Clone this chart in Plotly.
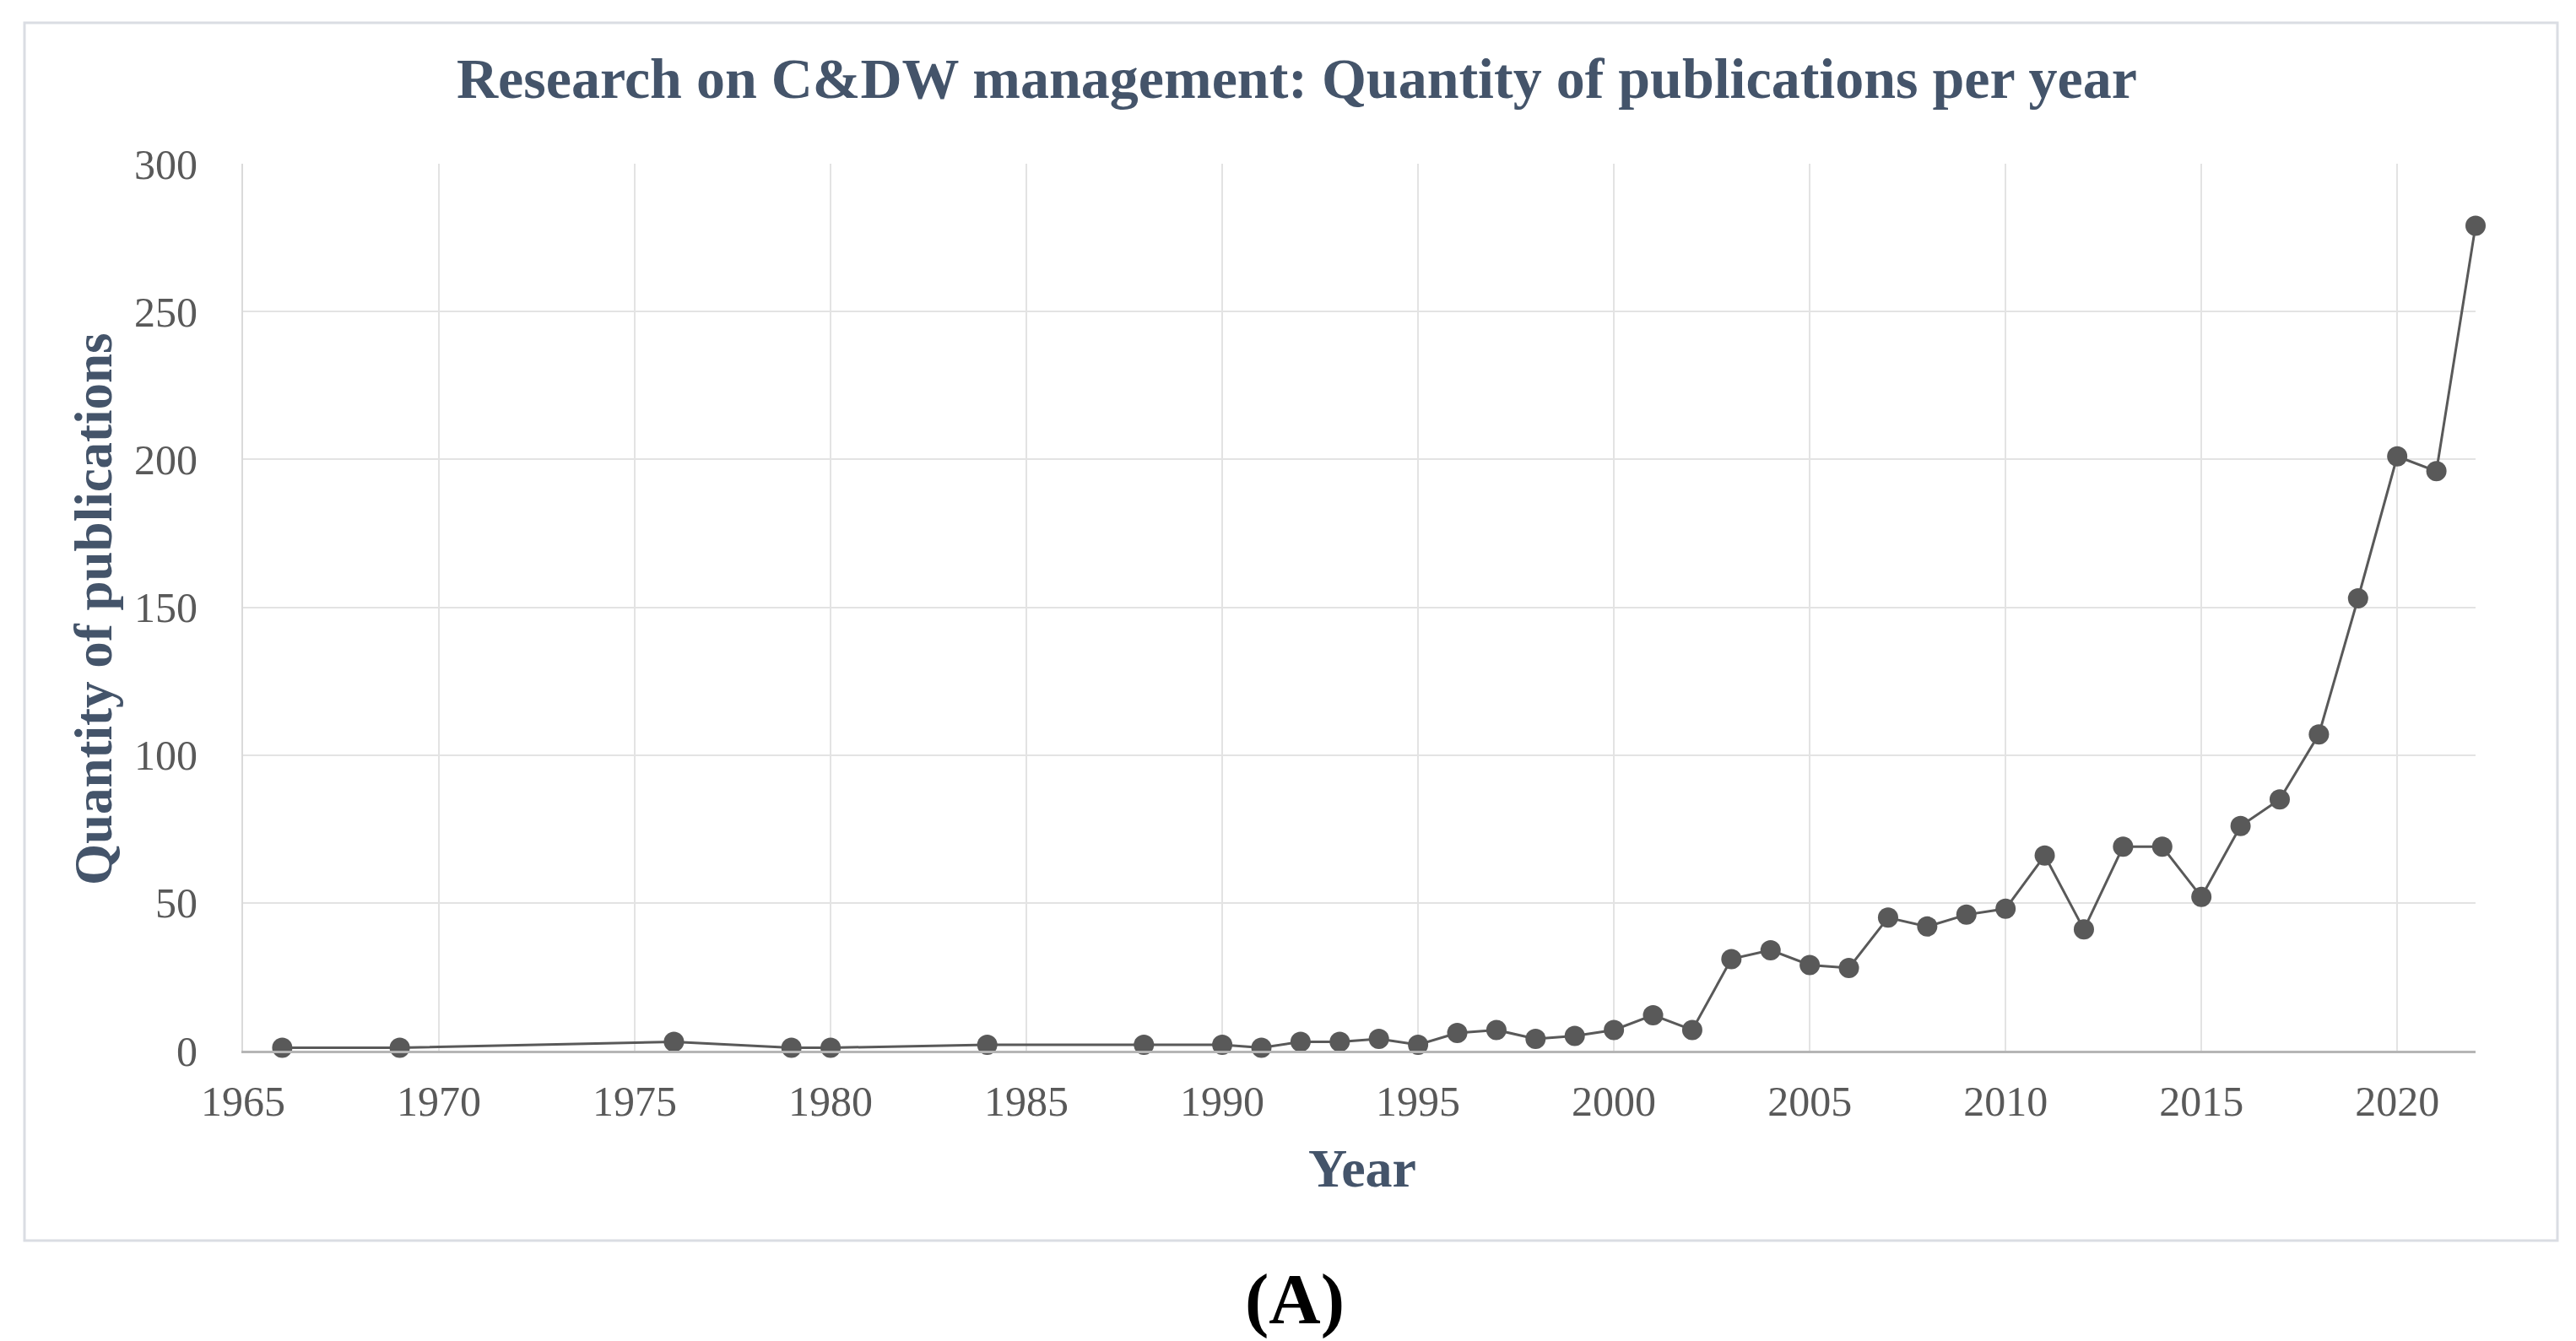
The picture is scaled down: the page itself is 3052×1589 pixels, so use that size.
import plotly.graph_objects as go

# ---- data ----
years = [1966, 1969, 1976, 1979, 1980, 1984, 1988, 1990, 1991, 1992, 1993, 1994,
         1995, 1996, 1997, 1998, 1999, 2000, 2001, 2002, 2003, 2004, 2005, 2006,
         2007, 2008, 2009, 2010, 2011, 2012, 2013, 2014, 2015, 2016, 2017, 2018,
         2019, 2020, 2021, 2022]
publications = [1, 1, 3, 1, 1, 2, 2, 2, 1, 3, 3, 4,
                2, 6, 7, 4, 5, 7, 12, 7, 31, 34, 29, 28,
                45, 42, 46, 48, 66, 41, 69, 69, 52, 76, 85, 107,
                153, 201, 196, 279]
x_ticks = [1965, 1970, 1975, 1980, 1985, 1990, 1995, 2000, 2005, 2010, 2015, 2020]
y_ticks = [0, 50, 100, 150, 200, 250, 300]

title_text = "Research on C&DW management: Quantity of publications per year"
x_title = "Year"
y_title = "Quantity of publications"
panel_label = "(A)"

# ---- layout geometry (pixels) ----
W, H = 3052, 1589
L, R, T, B = 280, 2925, 186, 1237

def px(xp):
    return (xp - L) / (R - L)

def py(yp):
    return (B - yp) / (B - T)

SERIF = "Liberation Serif, Times New Roman, serif"
SLATE = "#44546A"
TICK = "#595959"
MARK = "#595959"

fig = go.Figure()
fig.add_trace(go.Scatter(
    x=years, y=publications, mode="lines+markers",
    line=dict(color=MARK, width=3),
    marker=dict(color=MARK, size=24),
    cliponaxis=False, showlegend=False,
))

fig.update_layout(
    width=W, height=H,
    margin=dict(l=L, r=W - R, t=T, b=H - B),
    paper_bgcolor="white", plot_bgcolor="white",
    font=dict(family=SERIF, color=TICK),
    xaxis=dict(
        range=[1965, 2022], tickvals=x_ticks, ticktext=[str(v) for v in x_ticks],
        showgrid=True, gridcolor="#E3E3E3", gridwidth=2,
        zeroline=False, showline=True, linecolor="#B5B5B5", linewidth=3,
        ticks="", ticklabelstandoff=14,
        tickfont=dict(family=SERIF, size=50, color=TICK),
    ),
    yaxis=dict(
        range=[0, 300], tickvals=y_ticks, ticktext=[str(v) for v in y_ticks],
        showgrid=True, gridcolor="#E3E3E3", gridwidth=2,
        zeroline=False, showline=True, linecolor="#DADADA", linewidth=2,
        ticks="", ticklabelstandoff=42,
        tickfont=dict(family=SERIF, size=50, color=TICK),
    ),
    shapes=[dict(
        type="rect", xref="paper", yref="paper",
        x0=px(21), x1=px(3022), y0=py(1462), y1=py(19),
        line=dict(color="#DADDE3", width=3), fillcolor="rgba(0,0,0,0)", layer="below",
    )],
    annotations=[
        dict(text="<b>" + title_text + "</b>", xref="paper", yref="paper",
             x=px(1528), y=py(85), xanchor="center", yanchor="middle", showarrow=False,
             font=dict(family=SERIF, size=68, color=SLATE)),
        dict(text="<b>" + x_title + "</b>", xref="paper", yref="paper",
             x=px(1606), y=py(1376), xanchor="center", yanchor="middle", showarrow=False,
             font=dict(family=SERIF, size=64, color=SLATE)),
        dict(text="<b>" + y_title + "</b>", xref="paper", yref="paper",
             x=px(103), y=py(714), xanchor="center", yanchor="middle", showarrow=False,
             textangle=-90, font=dict(family=SERIF, size=63, color=SLATE)),
        dict(text="<b>" + panel_label + "</b>", xref="paper", yref="paper",
             x=px(1526), y=py(1532), xanchor="center", yanchor="middle", showarrow=False,
             font=dict(family=SERIF, size=85, color="black")),
    ],
)

fig.write_html("out.html")
